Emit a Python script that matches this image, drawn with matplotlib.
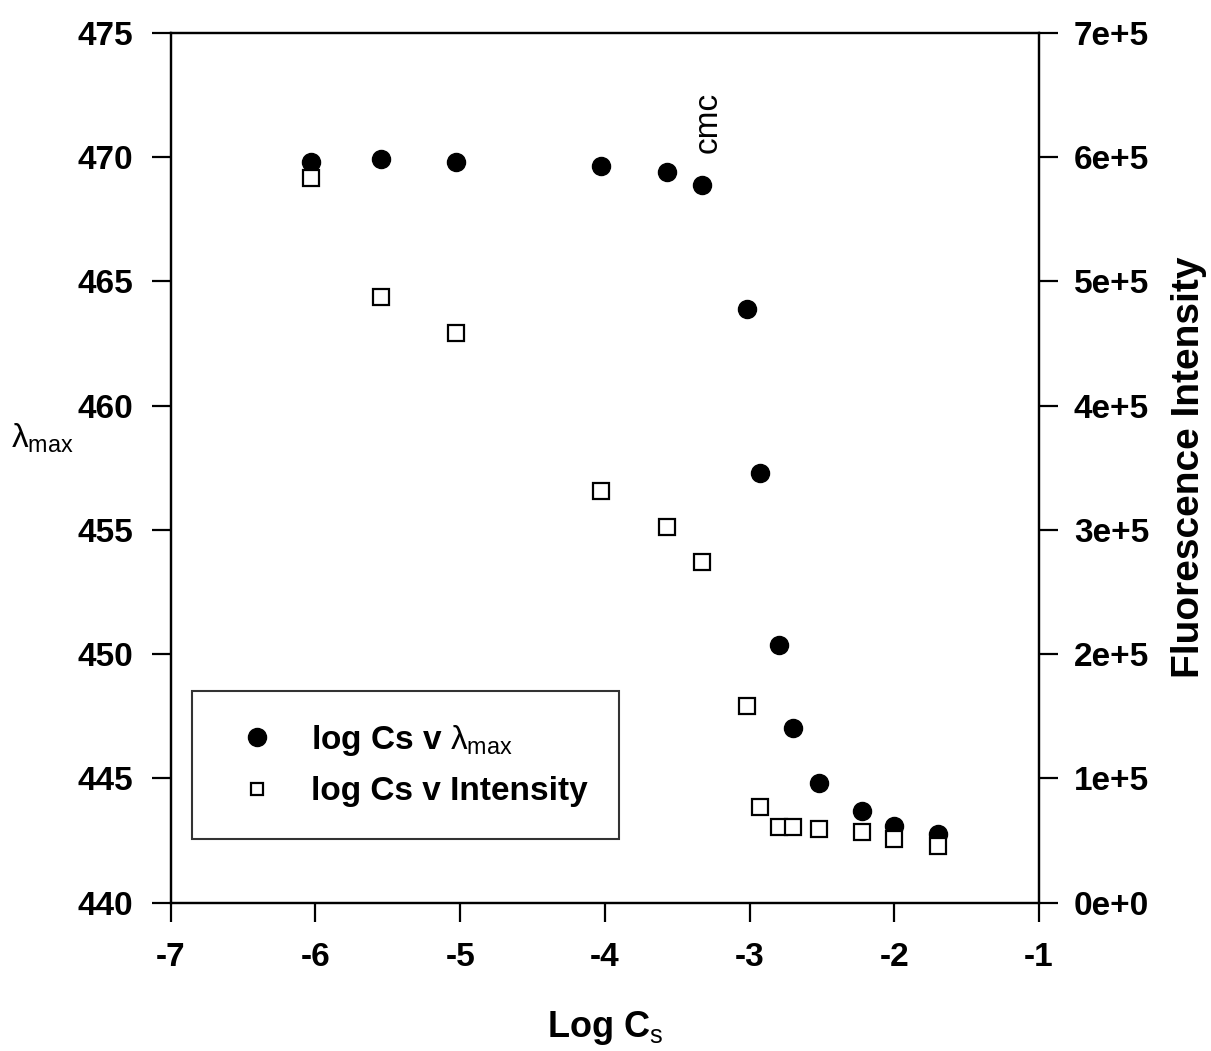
import matplotlib
matplotlib.use('Agg')
import matplotlib.pyplot as plt
from matplotlib.ticker import FuncFormatter

plt.rcParams['font.family'] = ['Liberation Sans', 'DejaVu Sans']
plt.rcParams['axes.unicode_minus'] = False
plt.rcParams['mathtext.fontset'] = 'custom'
plt.rcParams['mathtext.rm'] = 'Liberation Sans'
plt.rcParams['mathtext.it'] = 'Liberation Sans'
plt.rcParams['mathtext.bf'] = 'Liberation Sans:bold'

# data
log_cs = [-6.03, -5.55, -5.03, -4.03, -3.57, -3.33, -3.02, -2.93, -2.80, -2.70, -2.52, -2.22, -2.00, -1.70]
lambda_max = [469.8, 469.9, 469.8, 469.65, 469.4, 468.85, 463.9, 457.3, 450.35, 447.05, 444.8, 443.7, 443.1, 442.75]
intensity = [583000, 487000, 458000, 331000, 302000, 274000, 158000, 77000, 61000, 61000, 59500, 57000, 51000, 46000]

x_ticks = [-7, -6, -5, -4, -3, -2, -1]
left_ticks = [440, 445, 450, 455, 460, 465, 470, 475]
right_ticks = [0, 100000, 200000, 300000, 400000, 500000, 600000, 700000]

fig = plt.figure(figsize=(12.11, 10.51), dpi=100)
ax = fig.add_axes([0.141, 0.141, 0.717, 0.828])
ax2 = ax.twinx()

ax.plot(log_cs, lambda_max, 'o', color='black', markersize=13, linestyle='none',
        label=r'log Cs v $\lambda_{\rm max}$')
ax2.plot(log_cs, intensity, 's', markerfacecolor='white', markeredgecolor='black',
         markeredgewidth=1.6, markersize=11, linestyle='none', label='log Cs v Intensity')

ax.set_xlim(-7, -1)
ax.set_ylim(440, 475)
ax2.set_ylim(0, 700000)
ax.set_xticks(x_ticks)
ax.set_yticks(left_ticks)
ax2.set_yticks(right_ticks)


def sci_fmt(v, pos):
    if v == 0:
        return '0e+0'
    return '%de+5' % round(v / 100000)


ax2.yaxis.set_major_formatter(FuncFormatter(sci_fmt))

for a in (ax, ax2):
    for sp in a.spines.values():
        sp.set_linewidth(1.6)
    a.tick_params(direction='out', length=14, width=1.6, labelsize=24)
    for lbl in a.get_xticklabels() + a.get_yticklabels():
        lbl.set_fontweight('bold')
ax.tick_params(axis='y', pad=13)
ax.tick_params(axis='x', pad=14)
ax2.tick_params(axis='y', pad=11)

ax.set_xlabel(r'Log C$_{\rm s}$', fontsize=26, fontweight='bold', labelpad=26)
ax.set_ylabel(r'$\lambda_{\rm max}$', fontsize=24, rotation=0, labelpad=0)
ax.yaxis.set_label_coords(-0.148, 0.515)
ax2.set_ylabel('Fluorescence Intensity', fontsize=28, fontweight='bold', labelpad=16)

ax.text(-3.29, 471.4, 'cmc', rotation=90, fontsize=24, ha='center', va='center')

h1, l1 = ax.get_legend_handles_labels()
h2, l2 = ax2.get_legend_handles_labels()
leg = ax2.legend(h1 + h2, l1 + l2, loc='upper left', bbox_to_anchor=(0.025, 0.243),
                 prop={'size': 24, 'weight': 'bold'}, frameon=True, fancybox=False,
                 edgecolor='black', borderpad=0.95, handletextpad=0.6, labelspacing=0.55,
                 borderaxespad=0)
leg.get_frame().set_linewidth(1.5)
leg.legend_handles[1].set_markersize(9)

fig.savefig('out.png', dpi=100)
